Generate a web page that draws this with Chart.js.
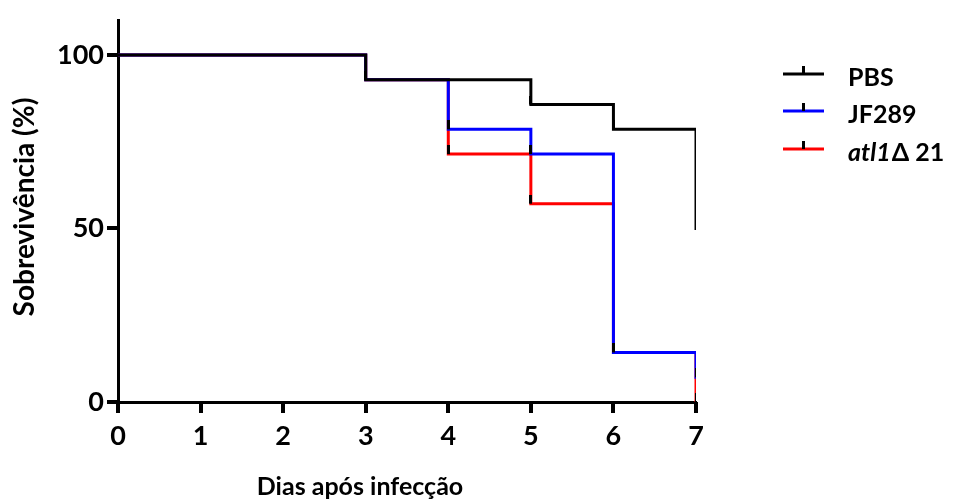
<!DOCTYPE html>
<html>
<head>
<meta charset="utf-8">
<script src="https://cdn.jsdelivr.net/npm/chart.js@4"></script>
<style>
  html, body { margin: 0; padding: 0; background: #fff; }
  #wrap { width: 964px; height: 499px; }
</style>
</head>
<body>
<div id="wrap"><canvas id="survival" width="964" height="499"></canvas></div>
<script>
const days = [0, 1, 2, 3, 4, 5, 6, 7];
const yTicks = [0, 50, 100];

// Kaplan-Meier steps: [day, survival %]
const pbsSteps = [[0, 100], [3, 92.86], [5, 85.71], [6, 78.57], [7, 50]];
const jf289Steps = [[0, 100], [3, 92.86], [4, 78.57], [5, 71.43], [6, 14.29], [7, 7.14]];
const atl1Steps = [[0, 100], [3, 92.86], [4, 71.43], [5, 57.14], [6, 14.29], [7, 0]];

const seriesNames = ['PBS', 'JF289', 'atl1Δ 21'];
const seriesColors = ['#000000', '#0000ff', '#ff0000'];
const xTitle = 'Dias após infecção';
const yTitle = 'Sobrevivência (%)';

const FONT = 'Lato, "Open Sans", sans-serif';
const TICK_LEN = 10;

function toPoints(steps){
  return steps.map(s => ({ x: s[0], y: s[1] }));
}

// small black mark sitting on top of each step (censor tick)
const censorMark = document.createElement('canvas');
censorMark.width = 3;
censorMark.height = 18;
(function(){
  const c = censorMark.getContext('2d');
  c.fillStyle = '#000';
  c.fillRect(0, 0, 3, 9);
})();

// legend, axis titles and tick marks drawn by hand
const extrasPlugin = {
  id: 'kmExtras',
  afterDraw(chart){
    const ctx = chart.ctx;
    const xs = chart.scales.x, ys = chart.scales.y;
    const x0px = Math.round(xs.getPixelForValue(days[0]));
    const y0px = Math.round(ys.getPixelForValue(0));
    ctx.save();

    // axis tick marks
    ctx.fillStyle = '#000';
    days.forEach(d => {
      const px = Math.round(xs.getPixelForValue(d));
      ctx.fillRect(px - 2, y0px, 4, TICK_LEN + 1);
    });
    yTicks.forEach(v => {
      const py = Math.round(ys.getPixelForValue(v));
      ctx.fillRect(x0px - TICK_LEN - 1, py - 2, TICK_LEN + 1, 4);
    });

    // legend
    const lx0 = 783, lx1 = 824, tx = 848;
    const rows = [74, 111, 149];
    rows.forEach((y, i) => {
      ctx.fillStyle = seriesColors[i];
      ctx.fillRect(lx0, y - 1.5, lx1 - lx0, 3);
      ctx.fillStyle = '#000';
      ctx.fillRect((lx0 + lx1) / 2 - 1.5, y - 8, 3, 8);

      ctx.textBaseline = 'alphabetic';
      ctx.textAlign = 'left';
      const base = y + 12;
      if (i === 2){
        ctx.font = 'italic bold 25px ' + FONT;
        ctx.fillText('atl1', tx, base);
        let w = ctx.measureText('atl1').width;
        ctx.font = 'bold 25px ' + FONT;
        ctx.fillText('Δ 21', tx + w + 1, base);
      } else {
        ctx.font = 'bold 25px ' + FONT;
        ctx.fillText(seriesNames[i], tx, base);
      }
    });

    // axis titles
    ctx.fillStyle = '#000';
    ctx.textAlign = 'center';
    ctx.textBaseline = 'alphabetic';
    ctx.font = 'bold 25px ' + FONT;
    ctx.fillText(xTitle, 360, 495);

    ctx.translate(34, 207);
    ctx.rotate(-Math.PI / 2);
    ctx.font = 'bold 28px ' + FONT;
    ctx.fillText(yTitle, 0, 0);
    ctx.restore();
  }
};

const ctx = document.getElementById('survival');

// grid kept on (invisible) so the tick length is still reserved in the layout
const axisGrid = {
  display: true,
  drawOnChartArea: false,
  drawTicks: true,
  color: 'rgba(0,0,0,0)',
  tickColor: 'rgba(0,0,0,0)',
  tickLength: TICK_LEN,
};

new Chart(ctx, {
  type: 'line',
  data: {
    datasets: [
      { label: seriesNames[0], data: toPoints(pbsSteps), borderColor: seriesColors[0] },
      { label: seriesNames[1], data: toPoints(jf289Steps), borderColor: seriesColors[1] },
      { label: seriesNames[2], data: toPoints(atl1Steps), borderColor: seriesColors[2] },
    ].map(d => Object.assign(d, {
      stepped: 'before',
      borderWidth: 3,
      pointStyle: censorMark,
      pointRadius: c => (c.dataIndex === 0 ? 0 : 5),
      fill: false,
      borderCapStyle: 'square',
    }))
  },
  options: {
    responsive: false,
    animation: false,
    layout: { padding: { top: 17, right: 268, left: 0, bottom: 0 } },
    plugins: {
      legend: { display: false },
      tooltip: { enabled: false },
    },
    scales: {
      x: {
        type: 'linear',
        min: days[0],
        max: days[days.length - 1],
        afterBuildTicks: s => { s.ticks = days.map(v => ({ value: v })); },
        afterFit: s => { s.height = 499 - 402; },
        border: { display: true, color: '#000', width: 3 },
        grid: axisGrid,
        ticks: { color: '#000', font: { family: FONT, size: 27, weight: 'bold' }, padding: 8, maxRotation: 0 },
      },
      y: {
        min: 0,
        max: 110,
        afterBuildTicks: s => { s.ticks = yTicks.map(v => ({ value: v })); },
        afterFit: s => { s.width = 118; },
        border: { display: true, color: '#000', width: 3 },
        grid: axisGrid,
        ticks: { color: '#000', font: { family: FONT, size: 27, weight: 'bold' }, padding: 4 },
      },
    },
  },
  plugins: [extrasPlugin],
});
</script>
</body>
</html>
